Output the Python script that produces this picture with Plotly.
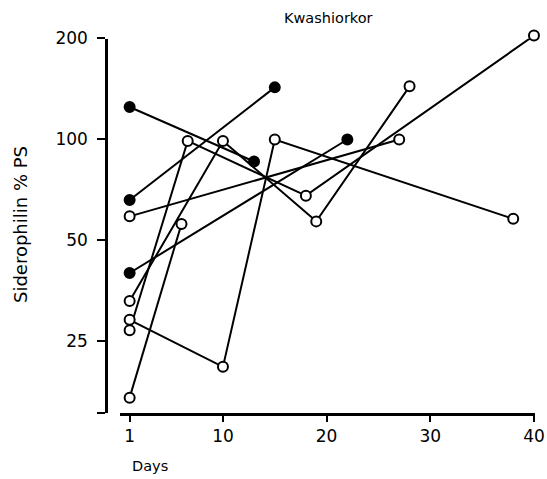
import plotly.graph_objects as go

# ---- data ----
filled_days = [[1, 13], [1, 15], [1, 22]]
filled_vals = [[125, 86], [66, 143], [40, 100]]

open_days = [[1, 27], [1, 10, 15, 38], [1, 6.6, 18, 40], [1, 10, 19, 28], [1, 6]]
open_vals = [[59, 100], [29, 21, 100, 58], [27, 99, 68, 204], [33, 99, 57, 144], [17, 56]]

y_tickvals = [15.3, 25, 50, 100, 200]
y_ticktext = ["", "25", "50", "100", "200"]
x_tickvals = [1, 10, 20, 30, 40]
x_ticktext = ["1", "10", "20", "30", "40"]

title_text = "Kwashiorkor"
y_title = "Siderophilin % PS"
x_title = "Days"

FONT = "DejaVu Sans"
fig = go.Figure()

# connecting lines on the visible axes
for d, v in zip(filled_days + open_days, filled_vals + open_vals):
    fig.add_trace(go.Scatter(x=d, y=v, mode="lines", yaxis="y",
                             line=dict(color="black", width=2),
                             showlegend=False, hoverinfo="skip"))
# markers on an identical-scale hidden axis that is slightly taller (so 204 is not culled)
for d, v in zip(open_days, open_vals):
    fig.add_trace(go.Scatter(x=d, y=v, mode="markers", cliponaxis=False, yaxis="y2",
                             marker=dict(symbol="circle", size=10, color="white",
                                         line=dict(color="black", width=2)),
                             showlegend=False))
for d, v in zip(filled_days, filled_vals):
    fig.add_trace(go.Scatter(x=d, y=v, mode="markers", cliponaxis=False, yaxis="y2",
                             marker=dict(symbol="circle", size=10, color="black",
                                         line=dict(color="black", width=2)),
                             showlegend=False))

W, H = 547, 479
ml, mr, mt, mb = 106, 12, 26, 66
pw = W - ml - mr
ph = H - mt - mb

def px(xp):
    return (xp - ml) / pw

def py(yp):
    return (H - mb - yp) / ph

ylo, yhi = 1.1847, 2.3010          # log10 range of the visible axis (15.3 .. 200)
dtop = py(38.5)                     # visible axis top (value 200)
yhi2 = ylo + (yhi - ylo) / dtop     # same scale, extended to full plot height

fig.update_layout(
    template="none",
    width=W, height=H,
    margin=dict(l=ml, r=mr, t=mt, b=mb, pad=0, autoexpand=False),
    plot_bgcolor="rgba(0,0,0,0)", paper_bgcolor="white",
    font=dict(family=FONT, color="black"),
    xaxis=dict(domain=[px(120), 1], range=[0.07, 40.1], automargin=False,
               anchor="y",
               tickvals=x_tickvals, ticktext=x_ticktext,
               showline=True, linecolor="black", linewidth=2.5,
               ticks="outside", ticklen=6, tickwidth=2, tickcolor="black",
               showgrid=False, zeroline=False,
               tickfont=dict(size=17, family=FONT, color="black")),
    yaxis=dict(type="log", range=[ylo, yhi], automargin=False,
               domain=[0, dtop], anchor="free", position=0,
               tickvals=y_tickvals, ticktext=y_ticktext,
               showline=True, linecolor="black", linewidth=2.5,
               ticks="outside", ticklen=8, tickwidth=2, tickcolor="black",
               showgrid=False, zeroline=False,
               ticklabelstandoff=6,
               tickfont=dict(size=17, family=FONT, color="black")),
    yaxis2=dict(type="log", range=[ylo, yhi2], domain=[0, 1], anchor="x",
                visible=False, showgrid=False, zeroline=False, automargin=False),
    annotations=[
        dict(text=title_text, xref="paper", yref="paper",
             x=px(328), y=py(18), showarrow=False,
             font=dict(size=14.5, family=FONT, color="black"),
             xanchor="center", yanchor="middle"),
        dict(text=y_title, xref="paper", yref="paper",
             x=px(20), y=py(225), showarrow=False, textangle=-90,
             font=dict(size=18, family=FONT, color="black"),
             xanchor="center", yanchor="middle"),
        dict(text=x_title, xref="paper", yref="paper",
             x=px(150), y=py(466), showarrow=False,
             font=dict(size=14.5, family=FONT, color="black"),
             xanchor="center", yanchor="middle"),
    ],
)

fig.write_html("out.html")
